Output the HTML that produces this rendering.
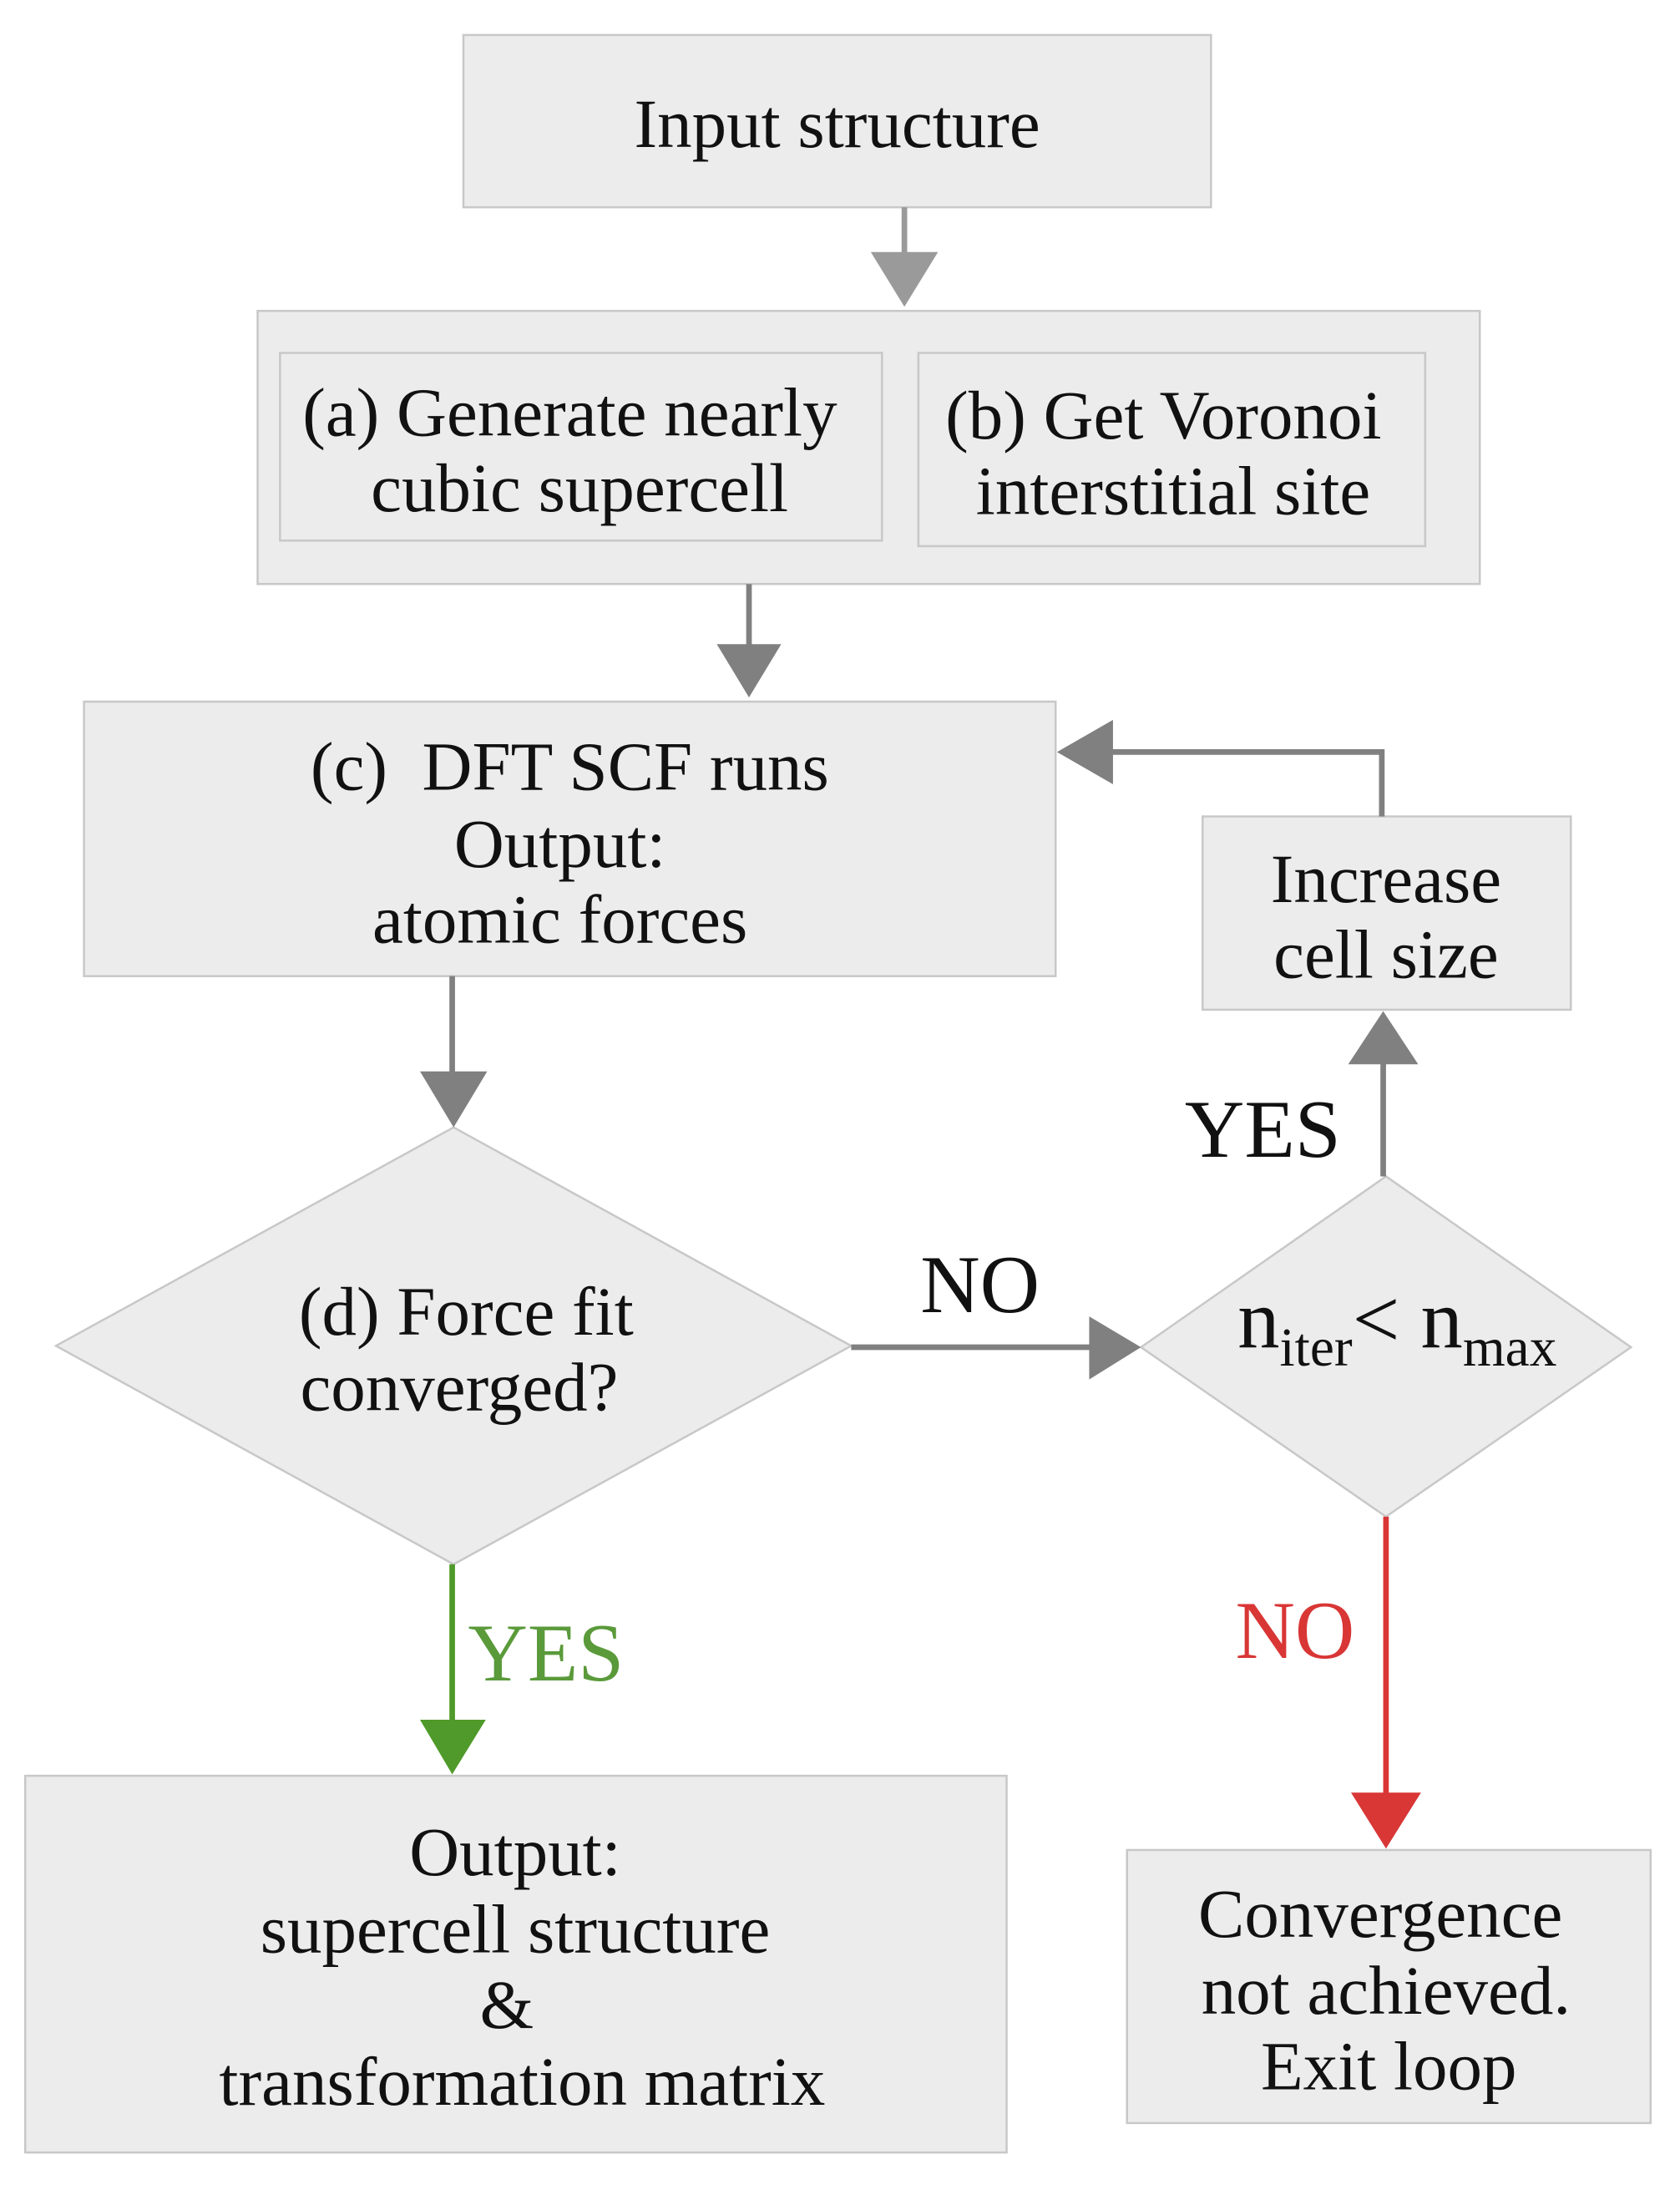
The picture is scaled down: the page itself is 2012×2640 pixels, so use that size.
<!DOCTYPE html>
<html><head><meta charset="utf-8"><style>
html,body{margin:0;padding:0;background:#fff;}
svg{display:block;}
text{font-family:"Liberation Serif",serif;font-size:49.5px;fill:#111;text-anchor:middle;}
.lbl{font-size:59px;}
</style></head><body>
<svg width="2012" height="2640" viewBox="0 0 1200 1574.5" preserveAspectRatio="none" xmlns="http://www.w3.org/2000/svg">
<g fill="#ececec" stroke="#c8c8c8" stroke-width="1.5">
<rect x="331" y="25" width="534" height="123"/>
<rect x="184" y="222" width="873" height="195"/>
<rect x="200" y="252" width="430" height="134"/>
<rect x="656" y="252" width="362" height="138"/>
<rect x="60" y="501" width="694" height="196"/>
<polygon points="40,961 324,805 608,961 324,1117"/>
<polygon points="815,962 990,840 1165,962 990,1083"/>
<rect x="859" y="583" width="263" height="138"/>
<rect x="18" y="1268" width="701" height="269"/>
<rect x="805" y="1321" width="374" height="195"/>
</g>
<g stroke-width="4" fill="none">
<line x1="646" y1="148" x2="646" y2="182" stroke="#9a9a9a"/>
<line x1="535" y1="417" x2="535" y2="462" stroke="#808080"/>
<line x1="323" y1="697" x2="323" y2="767" stroke="#808080"/>
<line x1="608" y1="962" x2="780" y2="962" stroke="#808080"/>
<line x1="988" y1="840" x2="988" y2="758" stroke="#808080"/>
<polyline points="987,583 987,537 793,537" stroke="#808080"/>
<line x1="323" y1="1117" x2="323" y2="1230" stroke="#4f9a2a"/>
<line x1="990" y1="1083" x2="990" y2="1282" stroke="#d93636"/>
</g>
<polygon points="622,180 670,180 646,219" fill="#9a9a9a"/>
<polygon points="512,460 558,460 535,498" fill="#808080"/>
<polygon points="300,765 348,765 324,805" fill="#808080"/>
<polygon points="778,940 778,985 815,962" fill="#808080"/>
<polygon points="963,760 1013,760 988,722" fill="#808080"/>
<polygon points="795,514 795,560 755,537" fill="#808080"/>
<polygon points="300,1228 347,1228 323,1267" fill="#4f9a2a"/>
<polygon points="965,1280 1015,1280 990,1320" fill="#d93636"/>
<text x="598" y="105">Input structure</text>
<text x="407" y="311">(a) Generate nearly</text>
<text x="414" y="365">cubic supercell</text>
<text x="831" y="313">(b) Get Voronoi</text>
<text x="838" y="367">interstitial site</text>
<text x="407" y="564">(c)&#160; DFT SCF runs</text>
<text x="400" y="619">Output:</text>
<text x="400" y="673">atomic forces</text>
<text x="333" y="953">(d) Force fit</text>
<text x="328" y="1007">converged?</text>
<text class="lbl" x="700" y="937">NO</text>
<text class="lbl" x="902" y="826">YES</text>
<text x="990" y="644">Increase</text>
<text x="990" y="698">cell size</text>
<text x="998" y="962" style="font-size:60px">n<tspan font-size="39" dy="13">iter</tspan><tspan dy="-13">&lt; n</tspan><tspan font-size="39" dy="13">max</tspan></text>
<text class="lbl" x="390" y="1200" style="fill:#5a9a3a">YES</text>
<text class="lbl" x="925" y="1184" style="fill:#d93636">NO</text>
<text x="368" y="1339">Output:</text>
<text x="368" y="1394">supercell structure</text>
<text x="362" y="1448">&amp;</text>
<text x="373" y="1503">transformation matrix</text>
<text x="986" y="1383">Convergence</text>
<text x="990" y="1438">not achieved.</text>
<text x="992" y="1492">Exit loop</text>
</svg>
</body></html>
